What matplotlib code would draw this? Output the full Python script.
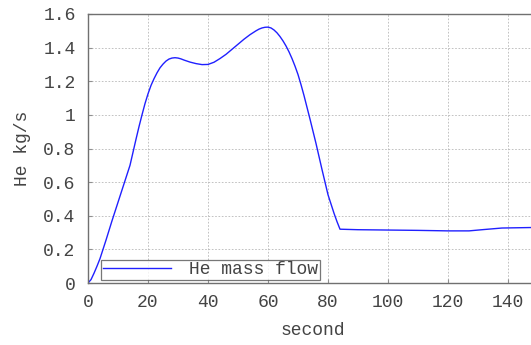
import numpy as np
import matplotlib.pyplot as plt
from matplotlib.ticker import FormatStrFormatter

# He mass flow over time
t = [0, 1, 2, 3, 4, 5, 6, 8, 10, 12, 14, 16, 17, 18, 19, 20, 21, 22, 23, 24,
     25, 26, 27, 28, 29, 30, 31, 32, 34, 36, 38, 40, 42, 44, 46, 48, 50, 52,
     54, 56, 57, 58, 59, 60, 61, 62, 63, 64, 65, 66, 67, 68, 69, 70, 71, 72,
     74, 76, 78, 79, 80, 82, 83, 84, 90, 100, 110, 120, 127, 132, 138, 148]
flow = [0, 0.02, 0.058, 0.1, 0.145, 0.2, 0.255, 0.37, 0.48, 0.59, 0.70,
        0.855, 0.93, 1.0, 1.067, 1.125, 1.175, 1.215, 1.25, 1.28, 1.302, 1.32,
        1.332, 1.338, 1.34, 1.338, 1.333, 1.326, 1.314, 1.305, 1.299, 1.3,
        1.313, 1.335, 1.36, 1.39, 1.42, 1.45, 1.477, 1.5, 1.51, 1.517, 1.521,
        1.522, 1.517, 1.505, 1.488, 1.466, 1.44, 1.41, 1.375, 1.335, 1.29,
        1.24, 1.18, 1.115, 0.975, 0.83, 0.675, 0.6, 0.525, 0.415, 0.365, 0.32,
        0.317, 0.315, 0.313, 0.31, 0.31, 0.318, 0.327, 0.33]

xticks = [0, 20, 40, 60, 80, 100, 120, 140]
yticks = [0, 0.2, 0.4, 0.6, 0.8, 1, 1.2, 1.4, 1.6]

plt.rcParams['font.family'] = ['Liberation Mono', 'DejaVu Sans Mono']

fig = plt.figure(figsize=(5.31, 3.45), dpi=100)
ax = fig.add_axes([88/531, 62/345, 450/531, 269/345])

ax.plot(t, flow, color='#2020ff', lw=1.0, label='He mass flow')

ax.set_xlim(0, 150)
ax.set_ylim(0, 1.6)
ax.set_xticks(xticks)
ax.set_yticks(yticks)
ax.yaxis.set_major_formatter(FormatStrFormatter('%g'))
ax.grid(True, color='#b8b8b8', ls=(0, (2, 2)), lw=0.6)
for s in ax.spines.values():
    s.set_color('#707070')
    s.set_linewidth(1.0)
ax.tick_params(direction='in', length=3, color='#909090', labelsize=13,
               labelcolor='#444444')
ax.tick_params(axis='y', pad=9)
ax.tick_params(axis='x', pad=8)

ax.set_xlabel('second', fontsize=13, color='#444444', labelpad=8)
ax.set_ylabel('He kg/s', fontsize=13, color='#444444', labelpad=9)

leg = ax.legend(loc='lower left', bbox_to_anchor=(10/450, 0), fontsize=13,
                frameon=True, fancybox=False, borderpad=0.1, handlelength=3.8,
                handletextpad=1.0, borderaxespad=0.15)
leg.get_frame().set_edgecolor('#555555')
leg.get_frame().set_linewidth(0.9)
for txt in leg.get_texts():
    txt.set_color('#444444')

fig.savefig('out.png', dpi=100)
